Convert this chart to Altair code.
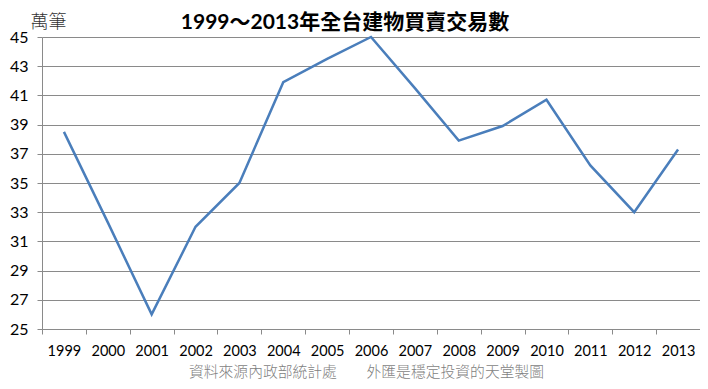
import altair as alt
import pandas as pd

years = [str(y) for y in range(1999, 2014)]
values = [38.5, 32.3, 26.0, 32.0, 35.0, 41.9, 43.5, 45.0, 41.5, 37.9, 38.9, 40.7, 36.2, 33.0, 37.3]
y_ticks = list(range(25, 46, 2))
title_text = "1999～2013年全台建物買賣交易數"
unit_text = "萬筆"
source_text = "資料來源內政部統計處　　外匯是穩定投資的天堂製圖"

df = pd.DataFrame({"year": years, "value": values})
W, H = 658, 292
GRAY = "#8a8a8a"
CJK = "Noto Sans CJK TC"

line = alt.Chart(df).mark_line(color="#4A7EBB", strokeWidth=2.5).encode(
    x=alt.X(
        "year:O",
        bandPosition=0.5,
        scale=alt.Scale(type="band", paddingInner=0, paddingOuter=0),
        axis=alt.Axis(
            tickBand="extent", labelAngle=0, grid=False,
            labelFont="Lato", labelFontSize=14.5, labelColor="#000000", labelPadding=10,
            tickSize=5, tickColor=GRAY, domainColor=GRAY, domainWidth=1,
            title=source_text, titleFont=CJK, titleFontSize=14.8, titleFontWeight=300,
            titleColor="#7f7f7f", titleX=324, titleY=43, titleAlign="center",
            titleBaseline="middle",
        ),
    ),
    y=alt.Y(
        "value:Q",
        scale=alt.Scale(domain=[25, 45], nice=False, zero=False),
        axis=alt.Axis(
            values=y_ticks, grid=True, gridColor=GRAY, gridWidth=1,
            labelFont="Lato", labelFontSize=16, labelColor="#000000", labelPadding=9,
            tickSize=5, tickColor=GRAY, domainColor=GRAY, domainWidth=1,
            title=unit_text, titleAngle=0, titleFont=CJK, titleFontSize=18,
            titleFontWeight=300, titleColor="#333333", titleX=6, titleY=-15,
            titleAlign="center", titleBaseline="middle",
        ),
    ),
)

title = alt.Chart(pd.DataFrame({"t": [title_text]})).mark_text(
    font="Lato, Noto Sans CJK TC", fontSize=21, fontWeight="bold", color="#000000",
    align="center", baseline="middle",
).encode(text="t:N", x=alt.value(303), y=alt.value(-14))

chart = alt.layer(line, title).properties(
    width=W, height=H,
    autosize=alt.AutoSizeParams(type="none"),
    padding={"left": 34, "top": 29, "right": 0, "bottom": 52},
    background="white",
).configure_view(stroke=None)

chart.save("out.html", embed_options={"renderer": "svg", "actions": False})
